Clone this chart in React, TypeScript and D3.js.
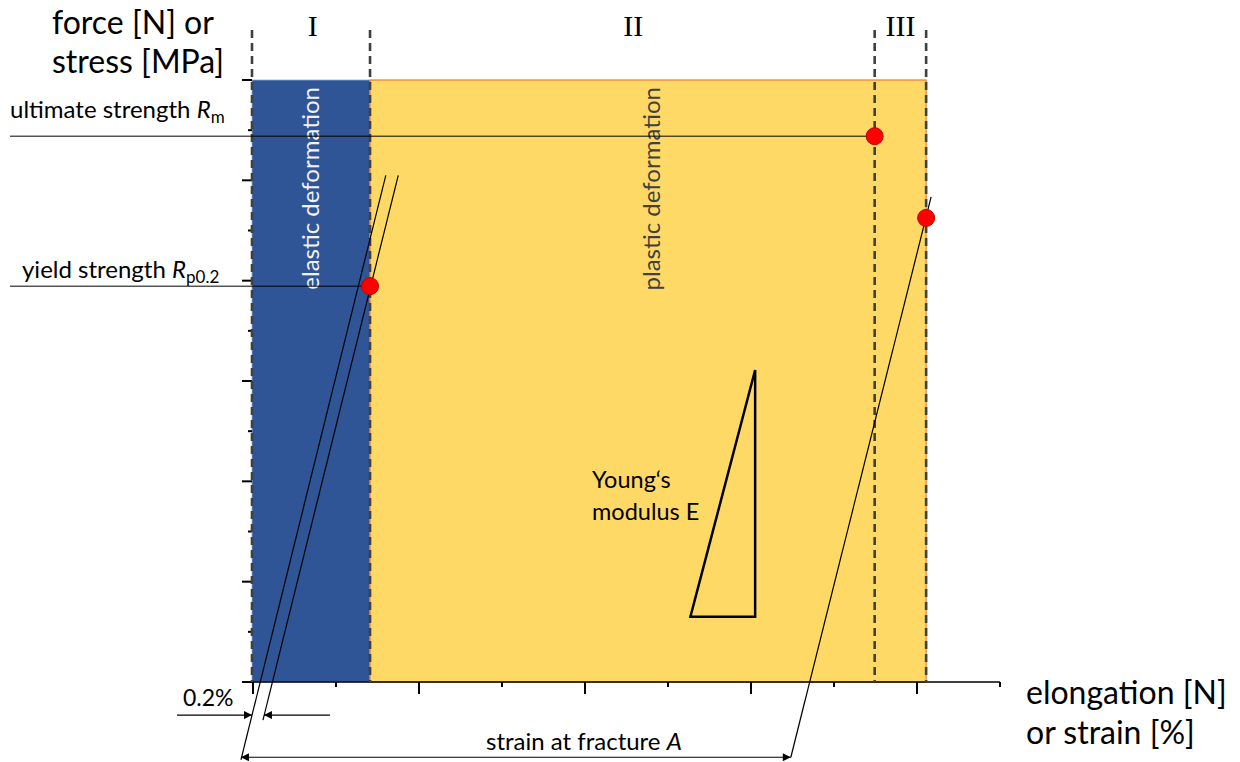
import React from "react";
import * as d3 from "d3";

// strain axis ticks (arbitrary units) and stress axis ticks
const xTicks = [0, 1, 2, 3, 4, 5, 6, 7, 8, 9];
const yTicks = [0, 1, 2, 3, 4, 5, 6, 7, 8, 9, 10, 11, 12];

// region boundaries in strain units: start, end of elastic, ultimate, fracture
const regionBounds = [0, 1.41, 7.49, 8.11];
const regionLabels = ["I", "II", "III"];
const regionLabelX = [0.72, 4.58, 7.8];

// characteristic points [strain, stress]
const yieldPoint: [number, number] = [1.41, 7.89];
const ultimatePoint: [number, number] = [7.49, 10.88];
const fracturePoint: [number, number] = [8.11, 9.25];

// slanted construction lines [[x0,y0],[x1,y1]]
const elasticLine: [number, number][] = [[-0.145, -1.55], [1.6, 10.1]];
const offsetLine: [number, number][] = [[0.12, -0.76], [1.75, 10.1]];
const fractureLine: [number, number][] = [[6.48, -1.5], [8.17, 9.67]];

// Young's modulus triangle
const triangle: [number, number][] = [[5.27, 1.3], [6.05, 1.3], [6.05, 6.22]];

const W = 1240;
const H = 762;
const font = "Lato, 'Open Sans', sans-serif";

export default function App() {
  const x = d3.scaleLinear().domain([0, 9]).range([253, 1000]);
  const y = d3.scaleLinear().domain([0, 12]).range([682, 80]);
  const line = d3.line<[number, number]>().x(d => x(d[0])).y(d => y(d[1]));

  const top = y(12);
  const bottom = y(0);
  const dashTop = 30;

  const xa = x(regionBounds[0]) - 1;
  const xb = x(regionBounds[1]);
  const xc = x(regionBounds[2]);
  const xd = x(regionBounds[3]);

  const arrow02y = y(-0.66);
  const arrowAy = y(-1.5);

  return (
    <svg width={W} height={H} style={{ position: "absolute", left: 0, top: 0, background: "#fff" }}>
      <defs>
        <marker id="arr" viewBox="0 0 10 10" refX="10" refY="5" markerWidth="10" markerHeight="8" orient="auto-start-reverse" markerUnits="userSpaceOnUse">
          <path d="M0,0 L10,5 L0,10 z" fill="#000" />
        </marker>
      </defs>

      {/* regions */}
      <rect x={xa} y={top} width={xb - xa} height={bottom - top} fill="#2F5597" stroke="#8FAADC" strokeWidth={0.8} />
      <rect x={xb} y={top} width={xd - xb} height={bottom - top} fill="#FFD966" stroke="#ED7D31" strokeWidth={1.2} />

      {/* rotated region labels */}
      <text transform={`translate(${(xa + xb) / 2 + 8},${top + 7}) rotate(-90)`} textAnchor="end" fontFamily={font} fontSize={24} fill="#F2F2F2">
        elastic deformation
      </text>
      <text transform={`translate(${x(4.9)},${top + 7}) rotate(-90)`} textAnchor="end" fontFamily={font} fontSize={24} fill="#404040">
        plastic deformation
      </text>

      {/* x axis */}
      <line x1={244} x2={1000} y1={bottom} y2={bottom} stroke="#000" strokeWidth={1.5} />
      {xTicks.map(t => (
        <line key={"x" + t} x1={x(t)} x2={x(t)} y1={bottom} y2={bottom + (t % 2 === 0 ? 12 : 5)} stroke="#000" strokeWidth={2} />
      ))}
      {/* y axis ticks */}
      {yTicks.map(t => (
        <line key={"y" + t} x1={252 - (t % 2 === 0 ? 10 : 4)} x2={252} y1={y(t)} y2={y(t)} stroke="#000" strokeWidth={2} />
      ))}

      {/* dashed boundaries */}
      {[xa, xb, xc, xd].map((v, i) => (
        <line key={"d" + i} x1={v} x2={v} y1={dashTop} y2={bottom} stroke="#404040" strokeWidth={2.6} strokeDasharray="8,5" />
      ))}

      {/* roman numerals */}
      {regionLabels.map((l, i) => (
        <text key={l} x={x(regionLabelX[i])} y={36} textAnchor="middle" fontFamily="'Liberation Serif', serif" fontSize={30} fill="#000">
          {l}
        </text>
      ))}

      {/* horizontal leader lines */}
      <line x1={10} x2={x(ultimatePoint[0])} y1={y(ultimatePoint[1])} y2={y(ultimatePoint[1])} stroke="#000" strokeWidth={1} />
      <line x1={10} x2={x(yieldPoint[0])} y1={y(yieldPoint[1])} y2={y(yieldPoint[1])} stroke="#000" strokeWidth={1} />

      {/* slanted lines */}
      <path d={line(elasticLine) || ""} stroke="#000" strokeWidth={1.2} fill="none" />
      <path d={line(offsetLine) || ""} stroke="#000" strokeWidth={1.2} fill="none" />
      <path d={line(fractureLine) || ""} stroke="#000" strokeWidth={1.2} fill="none" />

      {/* Young's modulus triangle */}
      <path d={(line(triangle) || "") + "Z"} stroke="#000" strokeWidth={2.5} fill="none" />
      <text x={592} y={488} fontFamily={font} fontSize={23.5} fill="#000">Young‘s</text>
      <text x={592} y={520} fontFamily={font} fontSize={23.5} fill="#000">modulus E</text>

      {/* points */}
      {[yieldPoint, ultimatePoint, fracturePoint].map((p, i) => (
        <circle key={"p" + i} cx={x(p[0])} cy={y(p[1])} r={8.5} fill="#FF0000" stroke="#C00000" strokeWidth={1} />
      ))}

      {/* strength labels */}
      <text x={10} y={118} fontFamily={font} fontSize={24} fill="#000">
        ultimate strength <tspan fontStyle="italic">R</tspan>
        <tspan fontSize={17} dy={5}>m</tspan>
      </text>
      <text x={22} y={278} fontFamily={font} fontSize={24} fill="#000">
        yield strength <tspan fontStyle="italic">R</tspan>
        <tspan fontSize={17} dy={5}>p0.2</tspan>
      </text>

      {/* axis titles */}
      <text x={52} y={34} fontFamily={font} fontSize={32} fill="#000">force [N] or</text>
      <text x={52} y={73} fontFamily={font} fontSize={32} fill="#000">stress [MPa]</text>
      <text x={1026} y={704} fontFamily={font} fontSize={32} fill="#000">elongation [N]</text>
      <text x={1026} y={744} fontFamily={font} fontSize={32} fill="#000">or strain [%]</text>

      {/* 0.2% dimension */}
      <line x1={177} x2={x(0) - 1} y1={arrow02y} y2={arrow02y} stroke="#000" strokeWidth={1.2} markerEnd="url(#arr)" />
      <line x1={330} x2={x(offsetLine[0][0]) + 1} y1={arrow02y} y2={arrow02y} stroke="#000" strokeWidth={1.2} markerEnd="url(#arr)" />
      <text x={183} y={706} fontFamily={font} fontSize={23} fill="#000">0.2%</text>

      {/* strain at fracture */}
      <line x1={x(elasticLine[0][0])} x2={x(fractureLine[0][0])} y1={arrowAy} y2={arrowAy} stroke="#000" strokeWidth={1.2} markerStart="url(#arr)" markerEnd="url(#arr)" />
      <text x={486} y={750} fontFamily={font} fontSize={24} fill="#000">
        strain at fracture <tspan fontStyle="italic">A</tspan>
      </text>
    </svg>
  );
}
